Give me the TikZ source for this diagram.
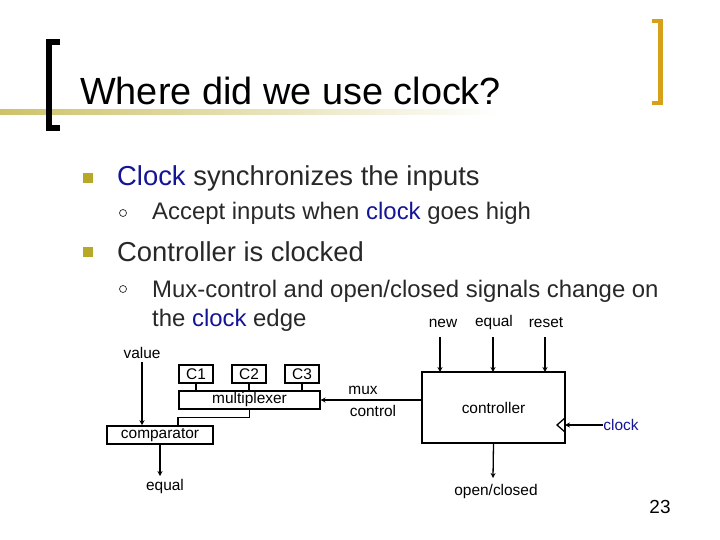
\documentclass[tikz,border=0pt]{standalone}
\usepackage{fontspec}
\setmainfont{Liberation Sans}
\usetikzlibrary{arrows.meta}
\definecolor{olive}{RGB}{184,168,40}
\definecolor{gold}{RGB}{214,160,24}
\definecolor{clk}{RGB}{20,20,150}
\definecolor{txt}{RGB}{40,40,40}
\begin{document}
\begin{tikzpicture}[x=1bp, y=-1bp,
  blk/.style={rectangle, draw=black, line width=1.6pt, inner sep=0pt},
  lbl/.style={inner sep=0pt, font=\fontsize{15.5}{18}\selectfont},
  wire/.style={line width=1.3pt},
  sig/.style={line width=1.3pt, -{Stealth[length=5pt,width=5pt]}}]
\useasboundingbox (0,0) rectangle (720,540);
% heading
\shade[left color=olive!70, right color=white] (0,110) rectangle (500,115);
\draw[line width=6pt] (60,42) -- (49,42) -- (49,128) -- (60,128);
\draw[gold, line width=5pt] (652,21) -- (660,21) -- (660,103) -- (652,103);
\node[anchor=base west, inner sep=0pt, font=\fontsize{38}{42}\selectfont] (title) at (80,105) {Where did we use clock?};
% bullets
\fill[olive] (83,173) rectangle (93,183);
\node[anchor=west, inner sep=0pt, text=txt, font=\fontsize{27.5}{30}\selectfont] (b1) at (117,178) {\textcolor{clk}{Clock} synchronizes the inputs};
\draw[txt, line width=0.7pt] (123,213) circle (3.5);
\node[anchor=west, inner sep=0pt, text=txt, font=\fontsize{24}{28}\selectfont] (s1) at (152,213) {Accept inputs when \textcolor{clk}{clock} goes high};
\fill[olive] (83,247) rectangle (93,257);
\node[anchor=west, inner sep=0pt, text=txt, font=\fontsize{27.5}{30}\selectfont] (b2) at (117,252) {Controller is clocked};
\draw[txt, line width=0.7pt] (123,289) circle (3.5);
\node[anchor=base west, inner sep=0pt, text=txt, font=\fontsize{24}{28}\selectfont] (s2) at (152,297) {Mux-control and open/closed signals change on};
\node[anchor=base west, inner sep=0pt, text=txt, font=\fontsize{24}{28}\selectfont] (s3) at (152,326) {the \textcolor{clk}{clock} edge};
% diagram
\node[blk, minimum width=34, minimum height=18, lbl] (c1) at (196,374) {C1};
\node[blk, minimum width=34, minimum height=18, lbl] (c2) at (249,374) {C2};
\node[blk, minimum width=34, minimum height=18, lbl] (c3) at (302,374) {C3};
\node[blk, minimum width=141, minimum height=18, lbl] (mux) at (249.5,400) {multiplexer};
\node[blk, minimum width=106, minimum height=18, lbl] (cmp) at (160,435) {comparator};
\node[blk, minimum width=143, minimum height=71, lbl] (ctrl) at (493.5,407.5) {controller};
\draw[wire] (c1) -- (c1 |- mux.north);
\draw[wire] (c2) -- (c2 |- mux.north);
\draw[wire] (c3) -- (c3 |- mux.north);
\draw[wire] (mux.south) -- ++(0,8) -| (178,426);
\node[lbl] (val) at (142,353) {value};
\draw[sig] (val.south) ++(0,3) -- (val |- cmp.north);
\node[lbl] (eq) at (165,487) {equal};
\draw[sig] (cmp.south) -- (160,476);
\draw[sig] (ctrl.west |- mux.east) -- (mux.east);
\node[lbl] (mux1) at (363,390) {mux};
\node[lbl] (mux2) at (373,411) {control};
\node[lbl] (new) at (443,323) {new};
\node[lbl] (eq2) at (494,323) {equal};
\node[lbl] (rst) at (546,323) {reset};
\draw[sig] (440,337) -- (440,372);
\draw[sig] (493,337) -- (493,372);
\draw[sig] (545,337) -- (545,372);
\draw[line width=1.3pt] (565,418) -- (557,425) -- (565,432);
\node[lbl, text=clk] (clock) at (621,425) {clock};
\draw[sig] (clock.west) -- (565,425);
\node[lbl] (oc) at (496,492) {open/closed};
\draw[sig] (ctrl.south) -- (493,478);
\node[lbl, font=\fontsize{19}{21}\selectfont] (pg) at (660,507) {23};
\end{tikzpicture}
\end{document}
